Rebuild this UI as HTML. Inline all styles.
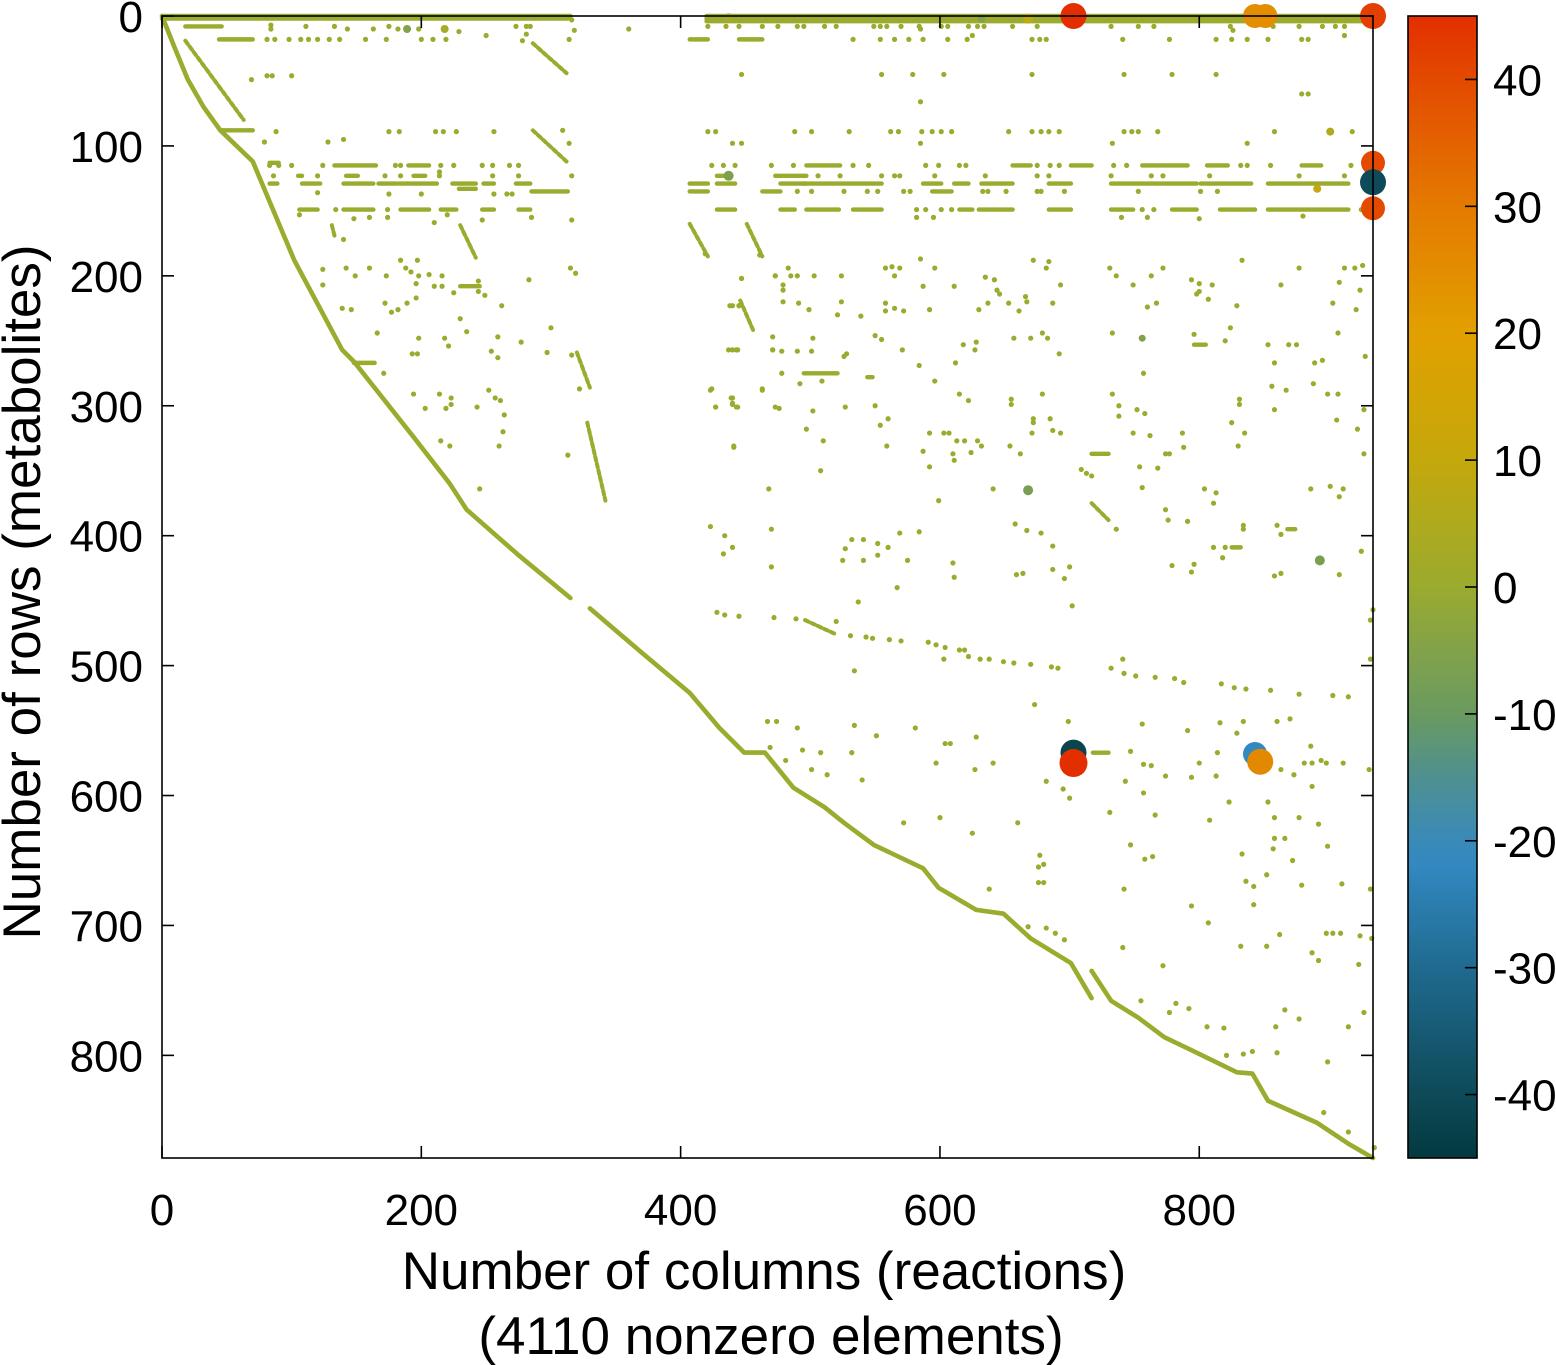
<!DOCTYPE html>
<html><head><meta charset="utf-8"><title>Sparsity pattern</title>
<style>html,body{margin:0;padding:0;background:#fff}svg{display:block}text{font-family:"Liberation Sans",Arial,sans-serif;fill:#000}</style>
</head><body>
<svg id="chart" width="1556" height="1365" viewBox="0 0 1556 1365" xmlns="http://www.w3.org/2000/svg">
<defs><linearGradient id="cbgrad" x1="0" y1="1" x2="0" y2="0"></linearGradient></defs>
<g id="marks"></g>
<g id="axes"></g>
<g id="cbar"></g>
<text x="764" y="1289" font-size="53" text-anchor="middle">Number of columns (reactions)</text>
<text x="771" y="1354" font-size="53" text-anchor="middle">(4110 nonzero elements)</text>
<text transform="translate(40,592) rotate(-90)" font-size="53" text-anchor="middle">Number of rows (metabolites)</text>
</svg>
<script>
// ---------- data ----------
const nRows = 879;
const nCols = 934;
const xTicks = [0, 200, 400, 600, 800];
const yTicks = [0, 100, 200, 300, 400, 500, 600, 700, 800];
const cbTicks = [-40, -30, -20, -10, 0, 10, 20, 30, 40];
const cbMin = -45, cbMax = 45;
const diagA = [[0,0],[2,5],[10,25],[20,49],[32,70],[45,88],[70,112],[86,150],[102,188],[139,257],[148,266],[194,324],[222,360],[235,380],[275,415],[315,448]];
const diagB = [[330,456],[370,490],[407,521],[430,548],[449,567],[465,567],[487,594],[511,609],[526,621],[549,638],[587,656],[599,671],[628,688],[649,691],[670,710],[701,729],[717,756]];
const diagC = [[717,735],[732,758],[753,771],[773,786],[794,796],[829,813],[841,814],[853,835],[891,852],[915,868],[934,879]];
// horizontal runs: [row, colStart, colEnd]
const hRuns = [[0,0,315],[0,420,934],[2,0,313],[2,420,934],[4,420,934],[8,18,46],[18,44,70],[18,407,421],[18,445,463],[88,46,70],
[113,83,90],[115,133,165],[115,190,206],[115,497,523],[115,656,670],[115,701,717],[115,756,791],[115,806,822],[115,879,894],
[123,105,108],[123,142,151],[123,194,203],[123,428,438],[123,473,497],
[129,83,89],[129,108,122],[129,140,163],[129,167,181],[129,183,212],[129,224,242],[129,248,256],[129,273,284],[129,407,421],[129,428,442],[129,477,497],[129,494,555],[129,587,601],[129,611,622],[129,632,656],[129,684,701],[129,732,798],[129,801,840],[129,853,915],
[133,229,242],[135,285,313],[135,407,421],[135,463,477],[135,594,609],
[149,106,120],[149,140,163],[149,184,206],[149,215,227],[149,247,256],[149,275,284],[149,428,442],[149,477,488],[149,497,522],[149,533,555],[149,615,625],[149,630,656],[149,684,701],[149,732,749],[149,779,798],[149,816,843],[149,853,915],
[208,230,245],[253,796,805],[267,148,164],[275,495,521],[278,544,548],[337,717,730],[395,868,874],[409,825,832],[567,718,730]];
// diagonal streaks: [col1,row1,col2,row2]
const streaks = [[286,21,312,44],[286,88,312,112],[230,161,242,186],[320,259,330,286],[328,313,342,373],[18,19,63,80],[407,160,421,185],[451,160,463,185],[446,219,456,242],[131,161,133,169],[717,375,730,388],[496,465,520,476],[717,735,717,735]];
// scattered nonzeros: [col,row]
const dots = [[81,18],[87,18],[98,18],[107,18],[113,18],[120,18],[129,18],[137,18],[157,18],[173,18],[200,18],[209,18],[219,18],[314,18],[360,10],[316,3],[318,11],
[84,7],[84,10],[143,10],[163,10],[175,8],[182,10],[198,10],[229,12],[250,15],[273,8],[281,8],[284,8],[281,14],[278,19],[133,8],[111,8],
[421,8],[435,8],[445,8],[463,8],[475,8],[490,8],[495,8],[511,8],[520,8],[549,8],[554,8],[559,8],[570,8],[584,8],[585,10],[601,8],[606,8],[622,8],[629,8],[634,8],[656,8],[675,8],[732,8],[753,8],[765,8],[824,8],[857,8],[877,8],[895,8],[905,8],[912,8],
[533,18],[554,18],[565,18],[576,18],[587,18],[606,18],[621,18],[671,18],[677,18],[682,18],[741,18],[777,18],[813,18],[825,18],[837,18],[853,18],[879,18],[884,18],
[585,66],[625,15],[879,60],[884,60],[912,15],[826,11],
[69,49],[81,46],[85,46],[100,46],[447,45],[555,45],[579,45],[603,45],[671,45],[742,45],[779,45],[813,45],
[175,89],[183,89],[211,89],[217,89],[227,89],[256,89],[309,88],[79,97],[88,89],[128,97],[140,95],[314,98],[421,89],[427,89],[488,89],[501,89],[530,89],[562,89],[568,89],[586,89],[594,89],[601,89],[609,89],[653,89],[671,89],[678,89],[684,89],[692,89],[742,89],[748,89],[753,89],[768,89],[858,89],[918,89],[440,98],[447,98],[585,98],[733,98],[837,98],
[83,115],[90,115],[100,115],[124,115],[180,115],[184,115],[215,115],[225,115],[247,115],[255,115],[268,115],[275,115],[424,115],[433,115],[442,115],[470,115],[487,115],[533,115],[545,115],[589,115],[599,115],[615,115],[620,115],[675,115],[685,115],[692,115],[734,115],[744,115],[832,115],[837,115],[855,115],[917,115],
[86,123],[120,123],[172,123],[184,123],[214,120],[214,123],[255,123],[275,123],[316,123],[506,123],[523,123],[555,123],[565,123],[569,123],[596,123],[635,123],[675,123],[684,123],[732,123],[763,123],[772,123],[808,123],[877,123],[912,123],
[490,135],[501,135],[526,135],[544,135],[552,135],[572,135],[577,135],[633,135],[637,135],[651,135],[675,135],[678,135],[696,135],[753,135],[801,135],[814,135],[120,136],[175,137],[200,137],[256,137],[266,137],[270,137],
[134,149],[174,149],[582,149],[589,149],[601,149],[609,149],[756,149],[765,149],[925,149],
[316,157],[285,155],[247,157],[220,153],[210,159],[174,155],[160,155],[148,156],[106,153],[140,172],[582,155],[595,155],[740,155],[760,155],[800,156],[880,154],
[124,195],[142,194],[160,194],[149,200],[173,200],[184,188],[197,188],[188,194],[192,197],[198,200],[206,199],[216,200],[315,194],[319,198],
[124,207],[196,206],[210,208],[216,208],[244,204],[244,212],[249,215],[225,213],[283,203],[172,221],[177,228],[182,226],[189,221],[196,217],[139,225],[146,226],[262,223],[230,233],[235,243],[300,240],
[166,244],[198,248],[218,248],[221,254],[259,247],[277,251],[193,260],[197,260],[254,258],[259,263],[297,259],[316,261],[171,275],
[194,291],[214,291],[223,294],[223,299],[219,302],[203,302],[243,301],[252,288],[257,294],[261,296],[264,307],[322,287],[313,338],[215,327],[222,331],[260,331],[263,320],[245,364],
[424,287],[427,301],[439,294],[440,299],[443,301],[463,287],[440,257],[443,257],[471,257],[473,301],[438,223],[445,223],[447,202],[473,200],[441,332],[468,364],
[419,183],[461,184],[483,194],[473,200],[485,200],[490,200],[503,200],[524,200],[447,202],[479,207],[479,211],[479,220],[491,221],[499,226],[440,223],[445,223],[524,220],[521,230],[539,231],[558,194],[563,193],[569,194],[565,200],[585,187],[596,194],[587,208],[611,208],[558,221],[558,227],[565,225],[572,227],[592,226],
[471,247],[502,248],[550,246],[555,249],[437,257],[444,257],[471,257],[478,258],[490,258],[501,258],[528,260],[526,262],[571,257],[478,275],[492,283],[509,281],[423,288],[463,288],[440,294],[440,298],[444,301],[427,301],[476,302],[502,304],[527,301],[550,300],[584,269],[596,281],[497,318],[554,315],[560,310],[510,327],[441,331],[559,331],[508,350],
[592,321],[603,321],[607,321],[613,327],[619,327],[629,327],[587,335],[610,337],[624,336],[632,331],[592,347],[611,342],[615,291],[622,296],
[635,201],[642,203],[644,211],[646,214],[672,188],[684,189],[682,194],[637,221],[630,226],[653,221],[661,227],[666,216],[667,220],[687,221],[693,207],[657,248],[670,248],[679,244],[683,248],[618,253],[628,251],[627,257],[612,267],[692,260],
[655,295],[655,299],[679,291],[672,310],[672,313],[685,310],[671,321],[687,319],[693,321],[654,331],[662,337],[709,349],[713,352],[717,354],[641,364],[599,373],[736,395],[658,391],[667,396],[678,398],[687,408],
[423,393],[434,400],[440,409],[433,414],[470,395],[470,424],[532,403],[541,403],[552,406],[560,409],[527,410],[525,419],[541,419],[552,415],[575,419],[569,398],[584,397],[610,421],[611,432],[567,440],[537,451],[659,430],[664,429],[687,426],[700,424],[696,433],[702,454],
[428,459],[434,461],[445,462],[472,463],[489,464],[520,466],[531,477],[543,478],[548,479],[561,480],[570,481],[591,482],[597,484],[604,486],[615,488],[619,488],[622,493],[631,495],[638,495],[649,497],[657,498],[670,499],[686,501],[691,502],[603,495],[534,504],
[732,502],[742,506],[751,508],[766,509],[781,510],[788,513],[817,514],[827,517],[836,518],[855,519],[877,522],[903,523],[915,524],[741,495],
[731,194],[736,200],[763,200],[772,194],[749,207],[760,224],[767,221],[733,244],[794,203],[800,206],[800,212],[798,214],[810,207],[807,218],[829,223],[833,188],[796,245],[820,250],[824,240],[853,253],[869,253],[875,253],[858,267],[889,267],[895,265],[757,275],
[856,285],[867,288],[888,283],[899,291],[907,291],[733,291],[738,300],[738,308],[752,303],[758,306],[831,295],[831,299],[858,303],[825,313],[835,321],[749,321],[762,323],[787,321],[788,332],[774,337],[777,337],[754,347],[768,348],[830,331],[756,363],
[804,364],[813,367],[811,375],[774,380],[776,388],[791,389],[834,392],[834,395],[860,392],[863,399],[811,409],[820,409],[818,417],[779,423],[796,422],[794,428],[858,431],[863,429],[908,430],[925,412],[886,364],[901,362],[911,364],[908,370],[906,311],[922,318],[927,337],[907,244],[928,262],[863,207],[877,194],[912,194],[920,194],[926,192],[908,205],[924,211],[903,221],[921,226],[927,303],[934,457],[932,465],[932,495],
[467,543],[474,543],[490,548],[534,546],[551,554],[581,548],[469,563],[494,565],[508,567],[532,567],[481,573],[501,580],[513,584],[540,588],[604,560],[608,560],[628,555],[597,575],[627,580],[641,575],[673,530],[699,543],
[747,566],[756,545],[791,550],[816,544],[834,543],[860,543],[870,541],[829,552],[757,576],[763,577],[774,585],[794,586],[800,575],[813,585],[814,567],[863,580],[873,584],[881,575],[887,575],[894,573],[898,575],[911,575],[886,562],[887,593],[931,580],
[682,589],[695,595],[700,602],[743,589],[757,598],[731,613],[766,615],[823,605],[853,605],[600,617],[572,621],[625,629],[660,621],[808,619],[858,617],[877,617],[892,622],[747,638],[758,649],[764,647],[858,633],[866,633],[857,641],[899,639],[833,645],[872,650],[677,646],[680,653],[676,655],[676,667],[680,667],[638,672],[742,672],[852,661],[836,666],[842,670],[879,669],[910,668],[932,672],
[794,685],[842,684],[807,698],[668,701],[682,702],[689,706],[696,711],[741,717],[862,707],[898,706],[903,706],[909,706],[924,708],[933,710],[832,716],[852,716],[887,721],[892,727],[923,730],[772,731],
[755,758],[782,760],[792,764],[777,767],[866,765],[877,772],[927,767],[806,778],[819,779],[859,778],[915,778],[821,800],[834,799],[841,797],[860,798],[899,805],[896,844],[915,859],[935,871]];
// large / colored nonzeros
const bigCols = [437, 668, 632, 189, 218, 901, 437, 891, 756, 668, 893, 703, 934, 934, 934, 843, 851, 934, 703, 703, 843, 847];
const bigRows = [1, 2, 2, 10, 10, 89, 123, 133, 248, 365, 419, 0, 0, 113, 148, 0, 0, 128, 567, 575, 568, 574];
const bigVals = [3, 8, -5, -5, 3, 5, -6, 10, -5, -7, -7, 45, 42, 40, 40, 25, 25, -40, -42, 45, -22, 26];
const bigRad = [4, 5, 4, 4, 4, 4, 5, 4, 3.5, 5, 5, 13, 13, 12, 12, 12, 12, 13, 13, 14, 12, 13];

// ---------- scales ----------
const X0 = 162, X1 = 1373, Y0 = 16, Y1 = 1158;
const xs = c => X0 + c * (X1 - X0) / nCols;
const ys = r => Y0 + r * (Y1 - Y0) / nRows;
const CB_X = 1408, CB_W = 69;
const cbY = v => Y1 - (v - cbMin) / (cbMax - cbMin) * (Y1 - Y0);
const cmapV = [-45, -40, -30, -22, -20, -15, -10, -5, 0, 10, 20, 30, 40, 45];
const cmapC = ["#033a40", "#0e4a58", "#206a90", "#3288c0", "#3a8ab8", "#4f9090", "#6a9a60", "#82a24a", "#9aab2e", "#c4a80c", "#e2a000", "#e47a00", "#e34a00", "#e32f00"];
function hex(h){return [parseInt(h.slice(1,3),16),parseInt(h.slice(3,5),16),parseInt(h.slice(5,7),16)];}
function cmap(v){
  if(v<=cmapV[0]) return cmapC[0];
  for(let i=1;i<cmapV.length;i++){ if(v<=cmapV[i]){ const t=(v-cmapV[i-1])/(cmapV[i]-cmapV[i-1]); const a=hex(cmapC[i-1]), b=hex(cmapC[i]); return 'rgb('+a.map((x,k)=>Math.round(x+(b[k]-x)*t)).join(',')+')'; } }
  return cmapC[cmapC.length-1];
}
const NS = "http://www.w3.org/2000/svg";
function mk(tag, attrs, parent){ const e=document.createElementNS(NS,tag); for(const k in attrs) e.setAttribute(k,attrs[k]); parent.appendChild(e); return e; }
const marks = document.getElementById('marks');
const base = cmap(0);

[diagA, diagB, diagC].forEach(function(d){
  const p = mk('polyline', {points: d.map(q => xs(q[0]).toFixed(1)+','+ys(q[1]).toFixed(1)).join(' '), fill:'none', stroke: base, 'stroke-width': 4.6, 'stroke-linejoin':'round', 'stroke-linecap':'round'}, marks);
  
  
});
hRuns.forEach(function(h){
  const l = mk('line', {x1: xs(h[1]), y1: ys(h[0]), x2: xs(h[2]), y2: ys(h[0]), stroke: base, 'stroke-width': 4.4, 'stroke-linecap':'round'}, marks);
  
  
});
streaks.forEach(function(s){
  const l = mk('line', {x1: xs(s[0]), y1: ys(s[1]), x2: xs(s[2]), y2: ys(s[3]), stroke: base, 'stroke-width': 4, 'stroke-linecap':'round', 'stroke-dasharray':'4 3'}, marks);
  
  
});
dots.forEach(function(d){
  const c = mk('circle', {cx: xs(d[0]), cy: ys(d[1]), r: 2.6, fill: base}, marks);
  
  
});
bigCols.forEach(function(col, i){
  const c = mk('circle', {cx: xs(col), cy: ys(bigRows[i]), r: bigRad[i], fill: cmap(bigVals[i])}, marks);
  
  
});

const axes = document.getElementById('axes');
const frame = mk('rect', {x: X0, y: Y0, width: X1-X0, height: Y1-Y0, fill:'none', stroke:'#000', 'stroke-width':1.6}, axes);


xTicks.forEach(function(t){
  const x = xs(t);
  const a = mk('line', {x1:x, y1:Y1, x2:x, y2:Y1-12, stroke:'#000', 'stroke-width':1.6}, axes);
  
  
  const b = mk('line', {x1:x, y1:Y0, x2:x, y2:Y0+12, stroke:'#000', 'stroke-width':1.6}, axes);
  
  
  const tx = mk('text', {x:x, y:1225, 'font-size':44, 'text-anchor':'middle'}, axes);
  tx.textContent = String(t);
  
  
});
yTicks.forEach(function(t){
  const y = ys(t);
  const a = mk('line', {x1:X0, y1:y, x2:X0+12, y2:y, stroke:'#000', 'stroke-width':1.6}, axes);
  
  
  const b = mk('line', {x1:X1, y1:y, x2:X1-12, y2:y, stroke:'#000', 'stroke-width':1.6}, axes);
  
  
  const tx = mk('text', {x:143, y:y+16, 'font-size':44, 'text-anchor':'end'}, axes);
  tx.textContent = String(t);
  
  
});

const grad = document.getElementById('cbgrad');
cmapV.forEach(function(v, i){
  mk('stop', {offset: ((v-cbMin)/(cbMax-cbMin)).toFixed(4), 'stop-color': cmapC[i]}, grad);
});
const cb = document.getElementById('cbar');
const cbr = mk('rect', {x: CB_X, y: Y0, width: CB_W, height: Y1-Y0, fill:'url(#cbgrad)', stroke:'#000', 'stroke-width':1.6}, cb);


cbTicks.forEach(function(t){
  const y = cbY(t);
  const a = mk('line', {x1:CB_X+CB_W, y1:y, x2:CB_X+CB_W-12, y2:y, stroke:'#000', 'stroke-width':1.6}, cb);
  
  
  const tx = mk('text', {x:1493, y:y+16, 'font-size':44}, cb);
  tx.textContent = String(t);
  
  
});
</script>
</body></html>
